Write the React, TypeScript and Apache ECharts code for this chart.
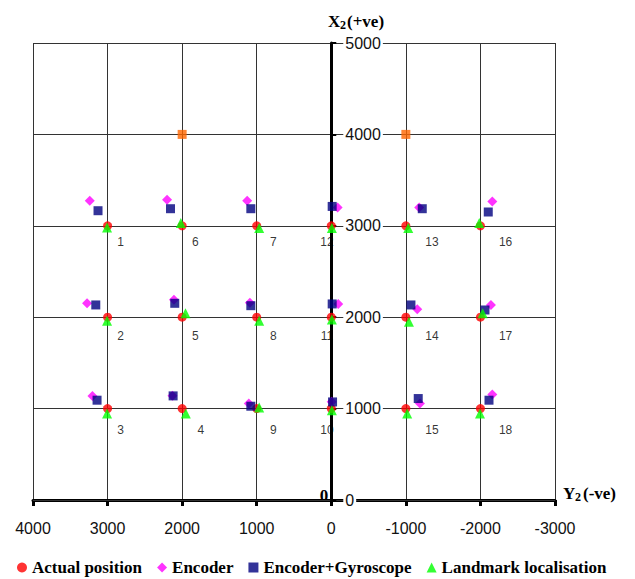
import React, { useEffect, useRef } from "react";
import * as echarts from "echarts";

const pointNames = ["1", "2", "3", "4", "5", "6", "7", "8", "9", "10", "11", "12", "13", "14", "15", "16", "17", "18"];

const actualX = [3000, 3000, 3000, 2000, 2000, 2000, 1000, 1000, 1000, 0, 0, 0, -1000, -1000, -1000, -2000, -2000, -2000];
const actualY = [3000, 2000, 1000, 1000, 2000, 3000, 3000, 2000, 1000, 1000, 2000, 3000, 3000, 2000, 1000, 3000, 2000, 1000];

const encoderX = [3239, 3275, 3203, 2130, 2110, 2202, 1128, 1092, 1106, -5, -93, -85, -1179, -1153, -1189, -2159, -2141, -2159];
const encoderY = [3275, 2152, 1139, 1140, 2190, 3286, 3275, 2159, 1055, 1075, 2145, 3201, 3201, 2087, 1055, 3267, 2134, 1154];

const gyroX = [3128, 3158, 3141, 2121, 2099, 2156, 1079, 1079, 1079, -17, -12, -12, -1220, -1068, -1166, -2105, -2061, -2115];
const gyroY = [3165, 2134, 1092, 1139, 2152, 3187, 3187, 2126, 1026, 1073, 2145, 3212, 3187, 2134, 1110, 3151, 2079, 1092];

const landmarkX = [3007, 3007, 3007, 1951, 1955, 2018, 967, 967, 967, -8, -8, -8, -1032, -1041, -1018, -1984, -2030, -1994];
const landmarkY = [2982, 1962, 946, 946, 2043, 3030, 2975, 1962, 1011, 982, 1975, 2975, 2975, 1951, 946, 3030, 2043, 946];

const beaconX = [2000, -1000];
const beaconY = [4000, 4000];

const labelX = [2827, 2827, 2827, 1750, 1823, 1823, 777, 777, 777, 59, 59, 59, -1350, -1350, -1350, -2337, -2337, -2337];
const labelY = [2828, 1797, 770, 770, 1797, 2828, 2828, 1797, 770, 770, 1797, 2828, 2828, 1797, 770, 2828, 1797, 770];

const X_MIN = -3000;
const X_MAX = 4000;
const Y_MIN = 0;
const Y_MAX = 5000;
const STEP = 1000;

const legendNames = ["Actual position", "Encoder", "Encoder+Gyroscope", "Landmark localisation"];

const zip = (xs: number[], ys: number[]) => xs.map((x, i) => [x, ys[i]]);

const SERIF = "'Liberation Serif', 'Times New Roman', serif";
const SANS = "'Liberation Sans', Arial, sans-serif";

const WIDTH = 635;
const HEIGHT = 579;
const GRID_LEFT = 33;
const GRID_RIGHT = 80;

export default function App() {
  const ref = useRef<HTMLDivElement>(null);

  useEffect(() => {
    if (!ref.current) return;
    const chart = echarts.init(ref.current, undefined, { renderer: "svg" });
    const gridColor = "#333333";
    const gridWidth = WIDTH - GRID_LEFT - GRID_RIGHT;
    // x axis is inverted: the value 0 sits (X_MAX - 0)/(X_MAX - X_MIN) of the way from the left edge
    const yAxisOffset = -gridWidth * (X_MAX - 0) / (X_MAX - X_MIN);
    const txt = (text: string, x: number, y: number, size: number, align = "left", valign = "middle", z = 5) => ({
      type: "text",
      x,
      y,
      z,
      style: {
        text,
        font: `bold ${size}px ${SERIF}`,
        fill: "#000",
        align,
        verticalAlign: valign,
        textAlign: align,
        textVerticalAlign: valign,
      },
    });
    chart.setOption({
      animation: false,
      backgroundColor: "#ffffff",
      grid: { left: GRID_LEFT, right: GRID_RIGHT, top: 43, bottom: 79, containLabel: false },
      xAxis: {
        type: "value",
        inverse: true,
        min: X_MIN,
        max: X_MAX,
        interval: STEP,
        axisLine: { show: true, onZero: false, lineStyle: { color: "#000", width: 3 } },
        axisTick: { show: true, inside: false, length: 6, lineStyle: { color: "#000", width: 3 } },
        axisLabel: {
          show: true,
          margin: 20,
          fontFamily: SANS,
          fontSize: 16,
          color: "#111",
          formatter: (v: number) => String(v),
        },
        splitLine: { show: true, lineStyle: { color: gridColor, width: 1 } },
      },
      yAxis: {
        type: "value",
        position: "left",
        offset: yAxisOffset,
        min: Y_MIN,
        max: Y_MAX,
        interval: STEP,
        z: 1,
        axisLine: { show: true, onZero: false, lineStyle: { color: "#000", width: 3 } },
        axisTick: { show: true, inside: true, length: 5, lineStyle: { color: "#000", width: 2 } },
        axisLabel: {
          show: true,
          inside: true,
          margin: 12,
          fontFamily: SANS,
          fontSize: 16,
          color: "#111",
          backgroundColor: "#ffffff",
          padding: [0, 2, 0, 2],
          formatter: (v: number) => String(v),
        },
        splitLine: { show: true, lineStyle: { color: gridColor, width: 1 } },
      },
      legend: {
        show: true,
        left: 17,
        top: 559,
        padding: 0,
        itemGap: 15,
        itemWidth: 10,
        itemHeight: 10,
        selectedMode: false,
        textStyle: { fontFamily: SERIF, fontWeight: "bold", fontSize: 17, color: "#000" },
        data: [
          { name: legendNames[0], icon: "circle" },
          { name: legendNames[1], icon: "diamond" },
          { name: legendNames[2], icon: "rect" },
          { name: legendNames[3], icon: "triangle" },
        ],
      },
      graphic: [
        txt("X", 328, 21, 17),
        txt("2", 340, 25, 12),
        txt("(+ve)", 347, 21, 17),
        txt("Y", 563, 493, 17),
        txt("2", 575, 497, 12),
        txt("(-ve)", 583, 493, 17),
        txt("0", 324, 504, 17, "center", "bottom", -1),
      ],
      series: [
        {
          name: "labels",
          type: "scatter",
          z: 0,
          silent: true,
          symbolSize: 0,
          itemStyle: { color: "#000" },
          data: pointNames.map((n, i) => ({ name: n, value: [labelX[i], labelY[i]] })),
          label: {
            show: true,
            position: "inside",
            formatter: (p: any) => p.name,
            fontFamily: SANS,
            fontSize: 12,
            color: "#000",
            textBorderWidth: 0,
            textBorderColor: "transparent",
          },
          emphasis: { disabled: true },
        },
        {
          name: "landmarks",
          type: "scatter",
          z: 2,
          silent: true,
          symbol: "rect",
          symbolSize: 9,
          itemStyle: { color: "#FF6600" },
          data: zip(beaconX, beaconY),
          emphasis: { disabled: true },
        },
        {
          name: legendNames[0],
          type: "scatter",
          z: 2,
          silent: true,
          symbol: "circle",
          symbolSize: 9,
          itemStyle: { color: "#FF0000" },
          data: zip(actualX, actualY),
          emphasis: { disabled: true },
        },
        {
          name: legendNames[1],
          type: "scatter",
          z: 2,
          silent: true,
          symbol: "diamond",
          symbolSize: 10,
          itemStyle: { color: "#FF00FF" },
          data: zip(encoderX, encoderY),
          emphasis: { disabled: true },
        },
        {
          name: legendNames[2],
          type: "scatter",
          z: 2,
          silent: true,
          symbol: "rect",
          symbolSize: 9,
          itemStyle: { color: "#000080" },
          data: zip(gyroX, gyroY),
          emphasis: { disabled: true },
        },
        {
          name: legendNames[3],
          type: "scatter",
          z: 2,
          silent: true,
          symbol: "triangle",
          symbolSize: 10,
          itemStyle: { color: "#00FF00" },
          data: zip(landmarkX, landmarkY),
          emphasis: { disabled: true },
        },
      ],
    });
    return () => chart.dispose();
  }, []);

  return (
    <div
      ref={ref}
      style={{ position: "absolute", left: 0, top: 0, width: WIDTH, height: HEIGHT, background: "#fff" }}
    />
  );
}
